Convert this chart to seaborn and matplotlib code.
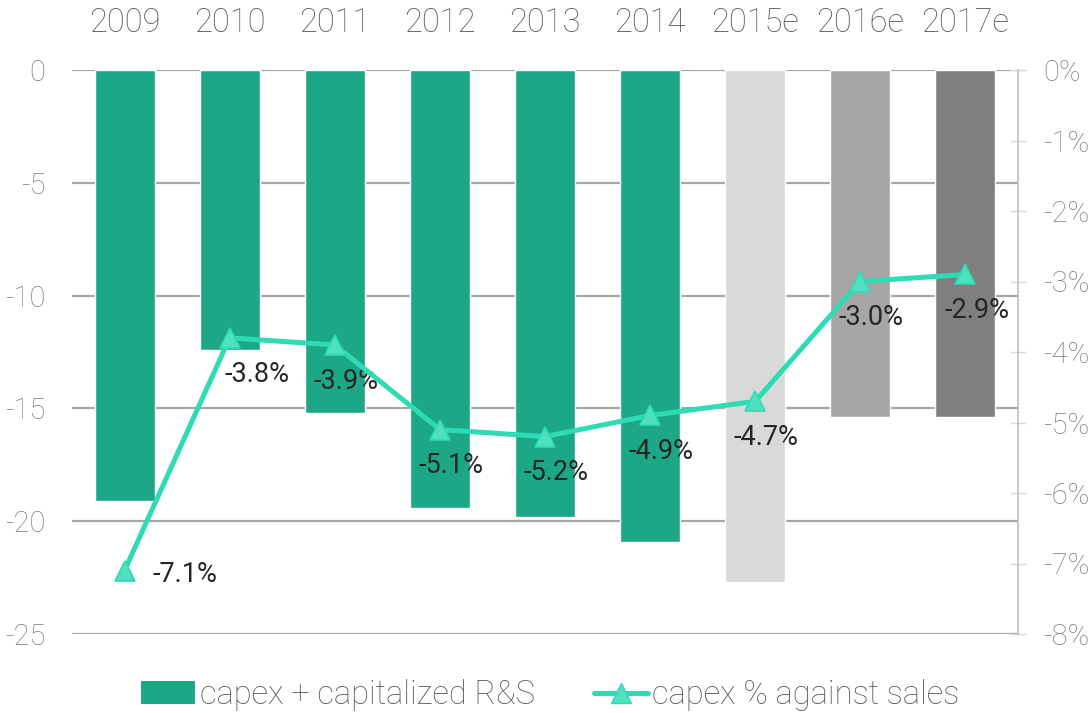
#!/usr/bin/env python3

import numpy as np
import pandas as pd
import matplotlib
matplotlib.use('Agg')
import matplotlib.pyplot as plt
from matplotlib.patches import Patch
from matplotlib.lines import Line2D
import seaborn as sns

# chart data
years = ['2009', '2010', '2011', '2012', '2013', '2014', '2015e', '2016e', '2017e']
capex = [-19.1, -12.4, -15.2, -19.4, -19.8, -20.9, -22.7, -15.4, -15.4]
capex_pct = [-7.1, -3.8, -3.9, -5.1, -5.2, -4.9, -4.7, -3.0, -2.9]
left_ticks = [0, -5, -10, -15, -20, -25]
right_ticks = [0, -1, -2, -3, -4, -5, -6, -7, -8]

TEAL = '#1ca886'
LINE = '#2edbb4'
bar_colors = [TEAL] * 6 + ['#d9d9d9', '#a6a6a6', '#7f7f7f']

sns.set_style('white')
plt.rcParams['font.family'] = ['Roboto', 'DejaVu Sans']
plt.rcParams['font.weight'] = 'light'

df = pd.DataFrame({'year': years, 'capex': capex, 'pct': capex_pct})
df['pos'] = np.arange(len(df))

fig = plt.figure(figsize=(10.9, 7.13), dpi=100)
ax = fig.add_axes([72 / 1090, 1 - 634 / 713, 946 / 1090, 564 / 713])

sns.barplot(data=df, x='year', y='capex', hue='year', palette=bar_colors,
            width=0.57, legend=False, ax=ax, saturation=1, zorder=2)
ax.set_xlim(-0.5, len(years) - 0.5)
ax.set_ylim(-25, 0)
ax.set_yticks(left_ticks)
ax.set_yticklabels([str(t) for t in left_ticks])
ax.yaxis.grid(True, color='#a6a6a6', linewidth=1.6, zorder=0)
ax.set_axisbelow(True)
ax.xaxis.tick_top()
ax.tick_params(axis='x', length=0, pad=22, labelsize=23.5, labelcolor='#595959')
ax.tick_params(axis='y', length=0, pad=19, labelsize=21, labelcolor='#7f7f7f')
ax.set_xlabel('')
ax.set_ylabel('')
for s in ax.spines.values():
    s.set_visible(False)

# percentage line on the secondary axis
ax2 = ax.twinx()
sns.lineplot(data=df, x='pos', y='pct', ax=ax2, color=LINE, linewidth=3.6,
             marker='^', markersize=15, markerfacecolor='#4fe0c0',
             markeredgecolor=LINE, markeredgewidth=1.2, zorder=5)
ax2.set_ylim(-8, 0)
ax2.set_yticks(right_ticks)
ax2.set_yticklabels([f'{t}%' for t in right_ticks])
ax2.tick_params(axis='y', direction='inout', length=12, width=1,
                color='#d9d9d9', pad=12, labelsize=21, labelcolor='#7f7f7f')
ax2.set_xlabel('')
ax2.set_ylabel('')
for name, s in ax2.spines.items():
    s.set_visible(name == 'right')
ax2.spines['right'].set_color('#bfbfbf')
ax2.spines['right'].set_linewidth(1.2)

# data labels, mostly below the markers
offsets = [(20, -3, 'left')] + [(8, -26, 'center')] * 8
offsets[1] = (20, -26, 'center')
for i, v in enumerate(capex_pct):
    dx, dy, ha = offsets[i]
    ax2.annotate(f'{v:.1f}%', (i, v), xytext=(dx, dy), textcoords='offset points',
                 ha=ha, va='center', fontsize=19.5, color='#262626',
                 fontweight='normal')

handles = [Patch(facecolor=TEAL, edgecolor='none'),
           Line2D([0], [0], color=LINE, linewidth=3.6, marker='^', markersize=15,
                  markerfacecolor='#4fe0c0', markeredgecolor=LINE)]
fig.legend(handles, ['capex + capitalized R&S', 'capex % against sales'],
           loc='center', bbox_to_anchor=(0.505, 1 - 695 / 713), ncol=2,
           frameon=False, fontsize=23.5, handlelength=1.65, handleheight=0.7,
           handletextpad=0.15, columnspacing=1.8, labelcolor='#595959')

fig.savefig('out.png', dpi=100)
